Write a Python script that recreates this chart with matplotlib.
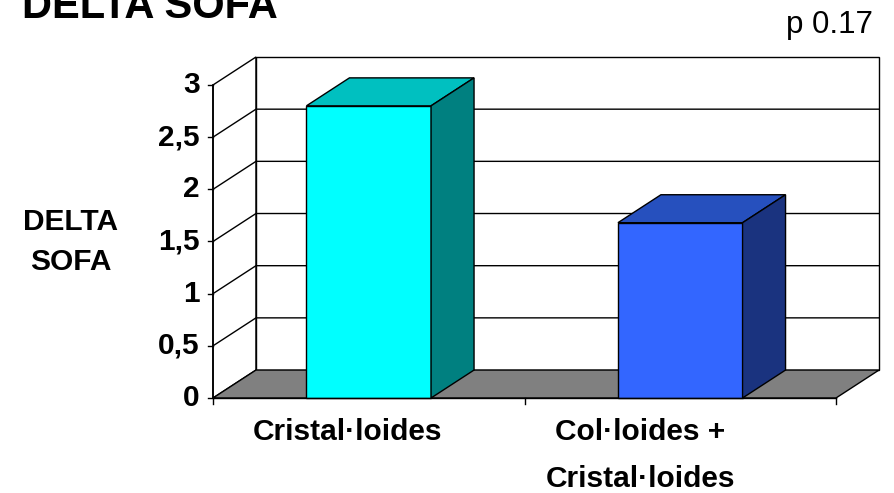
import matplotlib
matplotlib.use("Agg")
import matplotlib.pyplot as plt
from matplotlib.patches import Polygon

# data
categories = [["Cristal·loides"], ["Col·loides +", "Cristal·loides"]]
values = [2.80, 1.68]
yticks = [0, 0.5, 1, 1.5, 2, 2.5, 3]
yticklabels = ["0", "0,5", "1", "1,5", "2", "2,5", "3"]
front_colors = ["#00FFFF", "#3366FF"]
top_colors = ["#00C0C0", "#2650BE"]
side_colors = ["#008080", "#1A337F"]

# depth offset (x in category units, y in value units)
DX = 0.138
DY = 0.268
BW = 0.4
YMAX = 3

plt.rcParams['font.family'] = ['Liberation Sans', 'DejaVu Sans']

fig = plt.figure(figsize=(8.95, 4.93), dpi=100)
ax = fig.add_axes([213/895, (493-398)/493, (879-213)/895, (398-57)/493])
ax.set_xlim(-0.5, 1.5 + DX)
ax.set_ylim(0, YMAX + DY)
ax.axis('off')

def poly(pts, fc, z=1, lw=1.0):
    p = Polygon(pts, closed=True, facecolor=fc, edgecolor='black', lw=lw,
                zorder=z, clip_on=False, joinstyle='miter')
    ax.add_patch(p)

x0, x1 = -0.5, 1.5
# left wall and back wall
poly([(x0, 0), (x0, YMAX), (x0 + DX, YMAX + DY), (x0 + DX, DY)], 'white', 1)
poly([(x0 + DX, DY), (x0 + DX, YMAX + DY), (x1 + DX, YMAX + DY), (x1 + DX, DY)], 'white', 1)
# floor
poly([(x0, 0), (x1, 0), (x1 + DX, DY), (x0 + DX, DY)], '#808080', 2)

# gridlines on walls
for t in yticks[1:-1]:
    ax.plot([x0, x0 + DX, x1 + DX], [t, t + DY, t + DY], color='black', lw=1.0, zorder=2,
            clip_on=False)

# bars
for i, v in enumerate(values):
    l, r = i - BW/2, i + BW/2
    poly([(l, 0), (r, 0), (r, v), (l, v)], front_colors[i], 3)
    poly([(l, v), (r, v), (r + DX, v + DY), (l + DX, v + DY)], top_colors[i], 3)
    poly([(r, 0), (r + DX, DY), (r + DX, v + DY), (r, v)], side_colors[i], 3)

# front value axis with ticks
ax.plot([x0, x0], [0, YMAX], color='black', lw=1.2, zorder=4, clip_on=False)
for t, lab in zip(yticks, yticklabels):
    ax.plot([x0 - 0.016, x0], [t, t], color='black', lw=1.0, zorder=4, clip_on=False)
    ax.text(x0 - 0.042, t, lab, ha='right', va='center', fontsize=21.5,
            fontweight='bold')

# category axis ticks
ax.plot([x0, x1], [0, 0], color='black', lw=1.0, zorder=4, clip_on=False)
for t in [-0.5, 0.5, 1.5]:
    ax.plot([t, t], [0, -0.058], color='black', lw=1.0, zorder=4, clip_on=False)

# category labels
label_x = [-0.067, 0.871]
for i, lines in enumerate(categories):
    for j, s in enumerate(lines):
        ax.text(label_x[i], -0.33 - j*0.45, s, ha='center', va='center', fontsize=21.5,
                fontweight='bold')

# axis title
fig.text(71/895, 1 - 222/493, "DELTA", ha='center', va='center', fontsize=21.5,
         fontweight='bold')
fig.text(71/895, 1 - 262/493, "SOFA", ha='center', va='center', fontsize=21.5,
         fontweight='bold')

# title and p value
fig.text(22/895, 1 - 18/493, "DELTA SOFA", ha='left', va='baseline', fontsize=30,
         fontweight='bold')
fig.text(873/895, 1 - 33/493, "p 0.17", ha='right', va='baseline', fontsize=22.5)

fig.savefig("out.png", dpi=100)
